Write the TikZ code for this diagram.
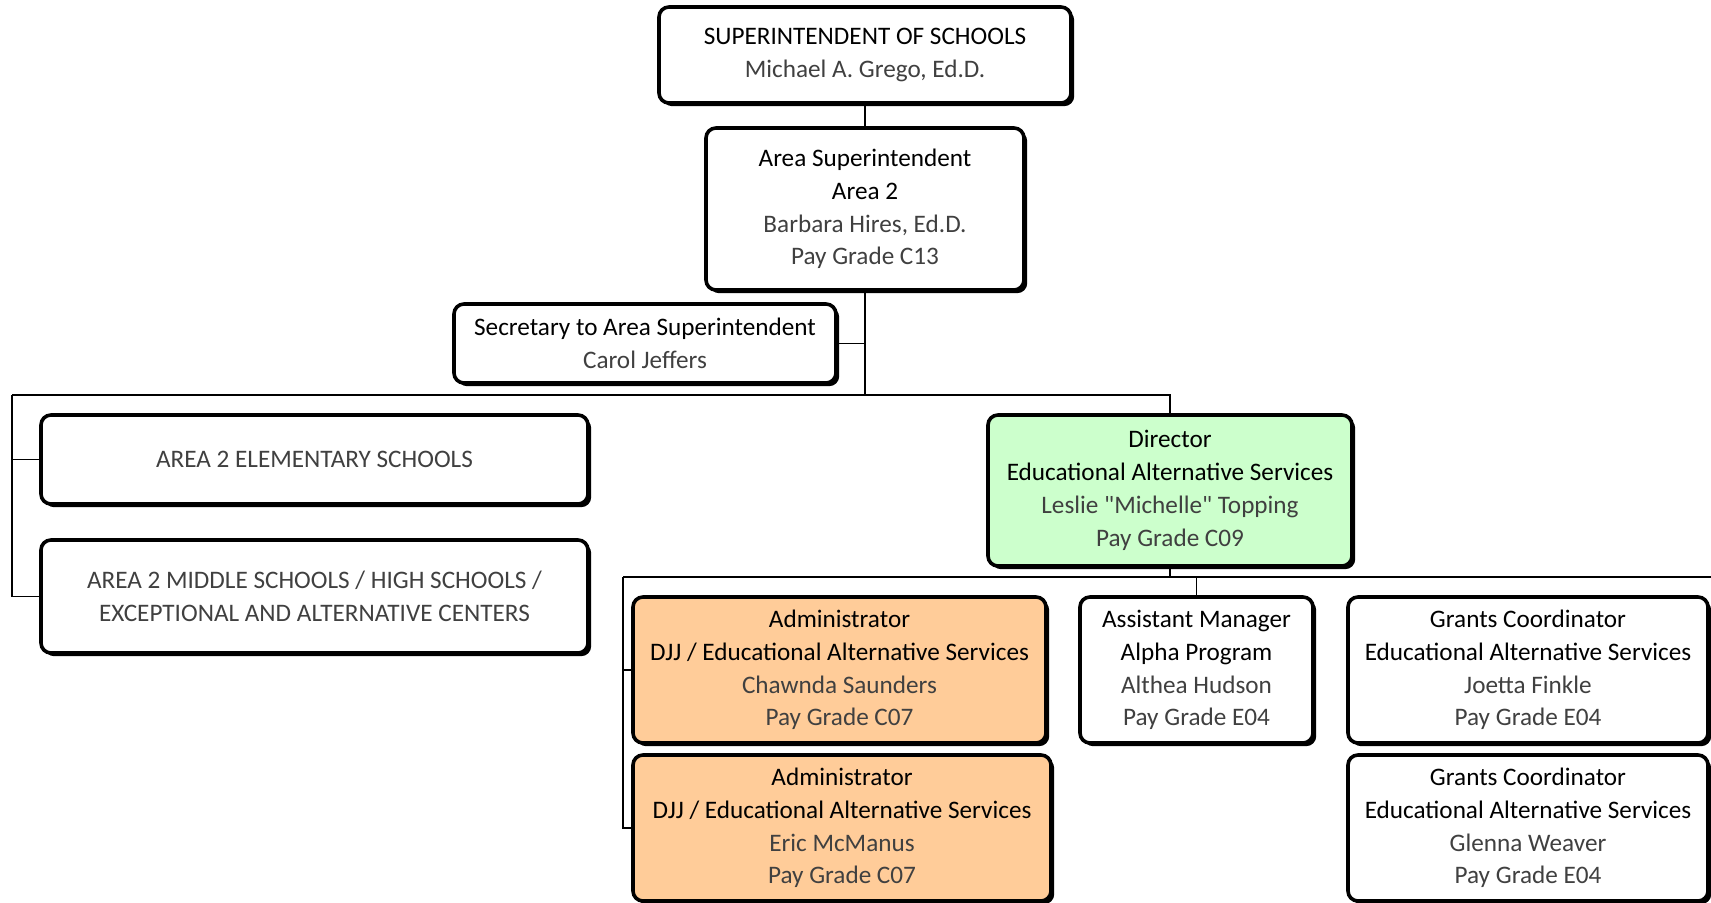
\documentclass[tikz,border=0pt]{standalone}
\usepackage{fontspec}
\setmainfont{Carlito}[Ligatures=TeXOff]
\usetikzlibrary{shadows}
\definecolor{namegray}{HTML}{404040}
\definecolor{dirgreen}{HTML}{CCFFCC}
\definecolor{admorange}{HTML}{FFCC99}
\newcommand{\who}[1]{{\color{namegray}#1}}
\tikzset{
  orgbox/.style={draw, line width=1.8pt, rounded corners=5pt, fill=white, inner sep=0pt,
    align=center, font=\fontsize{12.6}{16.4}\selectfont,
    drop shadow={shadow xshift=1.6pt, shadow yshift=-1.6pt, fill=black, opacity=1}},
  link/.style={line width=0.8pt}
}
\begin{document}
\begin{tikzpicture}[x=0.5pt,y=-0.5pt]
\useasboundingbox (0,0) rectangle (1711,903);
% top of the chart
\node[orgbox, minimum width=206pt, minimum height=48pt] (sup) at (865,55)
  {SUPERINTENDENT OF SCHOOLS\\ \who{Michael A. Grego, Ed.D.}};
\node[orgbox, minimum width=159pt, minimum height=81pt] (area) at (865,209)
  {Area Superintendent\\ Area 2\\ \who{Barbara Hires, Ed.D.}\\ \who{Pay Grade C13}};
\node[orgbox, minimum width=191pt, minimum height=39.5pt] (sec) at (645,343.5)
  {Secretary to Area Superintendent\\ \who{Carol Jeffers}};
% schools
\node[orgbox, minimum width=273.5pt, minimum height=44.5pt] (elem) at (314.5,459.5)
  {\who{AREA 2 ELEMENTARY SCHOOLS}};
\node[orgbox, minimum width=273.5pt, minimum height=56.5pt] (mid) at (314.5,596.5)
  {\who{AREA 2 MIDDLE SCHOOLS / HIGH SCHOOLS /}\\ \who{EXCEPTIONAL AND ALTERNATIVE CENTERS}};
% director and staff
\node[orgbox, fill=dirgreen, minimum width=182pt, minimum height=75.5pt] (dir) at (1170,490.5)
  {Director\\ Educational Alternative Services\\ \who{Leslie "Michelle" Topping}\\ \who{Pay Grade C09}};
\node[orgbox, fill=admorange, minimum width=206.5pt, minimum height=73pt] (adm1) at (839.5,670)
  {Administrator\\ DJJ / Educational Alternative Services\\ \who{Chawnda Saunders}\\ \who{Pay Grade C07}};
\node[orgbox, fill=admorange, minimum width=209pt, minimum height=73pt] (adm2) at (842,828)
  {Administrator\\ DJJ / Educational Alternative Services\\ \who{Eric McManus}\\ \who{Pay Grade C07}};
\node[orgbox, minimum width=116.5pt, minimum height=73pt] (asst) at (1196.5,670)
  {Assistant Manager\\ Alpha Program\\ \who{Althea Hudson}\\ \who{Pay Grade E04}};
\node[orgbox, minimum width=180pt, minimum height=73pt] (gr1) at (1528,670)
  {Grants Coordinator\\ Educational Alternative Services\\ \who{Joetta Finkle}\\ \who{Pay Grade E04}};
\node[orgbox, minimum width=180pt, minimum height=73pt] (gr2) at (1528,828)
  {Grants Coordinator\\ Educational Alternative Services\\ \who{Glenna Weaver}\\ \who{Pay Grade E04}};
% connectors
\coordinate (busA) at (865,395);
\coordinate (busAL) at (12,395);
\coordinate (busB) at (1170,577);
\coordinate (busBL) at (623,577);
\coordinate (busBR) at (1711,577);
\draw[link] (sup.south) -- (area.north);
\draw[link] (area.south) -- (busA);
\draw[link] (sec.east) -- (sec.east -| busA);
\draw[link] (busAL) -- (busA) -| (dir.north);
\draw[link] (busAL) |- (mid.west);
\draw[link] (busAL |- elem.west) -- (elem.west);
\draw[link] (dir.south) -- (busB);
\draw[link] (busBL) -- (busBR);
\draw[link] (busB -| asst.north) -- (asst.north);
\draw[link] (busBL) |- (adm2.west);
\draw[link] (busBL |- adm1.west) -- (adm1.west);
\end{tikzpicture}
\end{document}
